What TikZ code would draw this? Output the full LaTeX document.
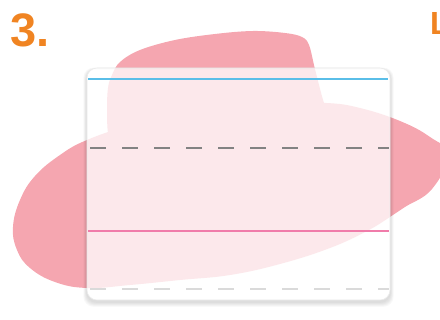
\documentclass[tikz,border=0pt]{standalone}
\usepackage{fontspec}
\setmainfont{Liberation Sans}
\begin{document}
\begin{tikzpicture}[x=1pt,y=-1pt]
\definecolor{blobpink}{RGB}{245,166,176}
\definecolor{numorange}{RGB}{240,132,34}
\definecolor{lineblue}{RGB}{90,190,232}
\definecolor{linepink}{RGB}{240,124,170}
\definecolor{dashgray}{RGB}{130,130,130}
\definecolor{dashlight}{RGB}{218,218,218}
\tikzset{
  blobfill/.style={fill=blobpink},
  cardfill/.style={fill=white, fill opacity=0.75},
  guideline/.style={line width=2.4pt},
  guidedash/.style={line width=2.6pt, dash pattern=on 16pt off 16pt},
  numlabel/.style={anchor=base west, inner sep=0pt, text=numorange, font=\bfseries\fontsize{47}{47}\selectfont},
}
\useasboundingbox (0,0) rectangle (440,320);
% blob: egg part
\fill[blobfill] plot[smooth cycle, tension=0.7] coordinates {
 (13,227) (20,200) (35,176) (60,155) (87,140) (130,126) (200,112) (280,104)
 (326,103) (360,108) (400,121) (430,137) (448,155) (432,189) (405,207)
 (390,217) (367,231) (330,248) (280,264) (230,275) (180,280) (130,285)
 (87,288) (55,282) (30,268) (17,250)};
% blob: top cap
\fill[blobfill] plot[smooth cycle, tension=0.6] coordinates {
 (108,133) (107,110) (108,88) (112,75) (120,62) (140,50) (175,40) (215,34)
 (253,31) (285,33) (302,37) (309,45) (314,65) (319,85) (324,103) (330,118)
 (250,135) (150,140) (112,142)};
% card shadow (outside only)
\foreach \k in {1,2,3,4,5,6}{
  \fill[black, opacity=0.025, even odd rule]
    [rounded corners=10pt] (87-\k*0.6,68+2-\k*0.4) rectangle (390+\k*0.6,300+2+\k*0.8)
    [sharp corners] (87,68) [rounded corners=10pt] rectangle (390,300);
}
% card
\fill[cardfill, rounded corners=10pt] (87,68) rectangle (390,300);
\draw[black!8, line width=0.6pt, rounded corners=10pt] (87,68) rectangle (390,300);
% guide lines
\coordinate (bl) at (88,79);  \coordinate (br) at (388,79);
\coordinate (gl) at (90,148); \coordinate (gr) at (389,148);
\coordinate (pl) at (88,231); \coordinate (pr) at (389,231);
\coordinate (ll) at (90,289); \coordinate (lr) at (389,289);
\draw[guideline, lineblue] (bl) -- (br);
\draw[guidedash, dashgray] (gl) -- (gr);
\draw[guideline, linepink] (pl) -- (pr);
\draw[guidedash, dashlight] (ll) -- (lr);
% labels
\node[numlabel] (num) at (10,47) {3.};
\node[numlabel, font=\bfseries\fontsize{32}{32}\selectfont] (lword) at (430,35) {L};
\end{tikzpicture}
\end{document}
